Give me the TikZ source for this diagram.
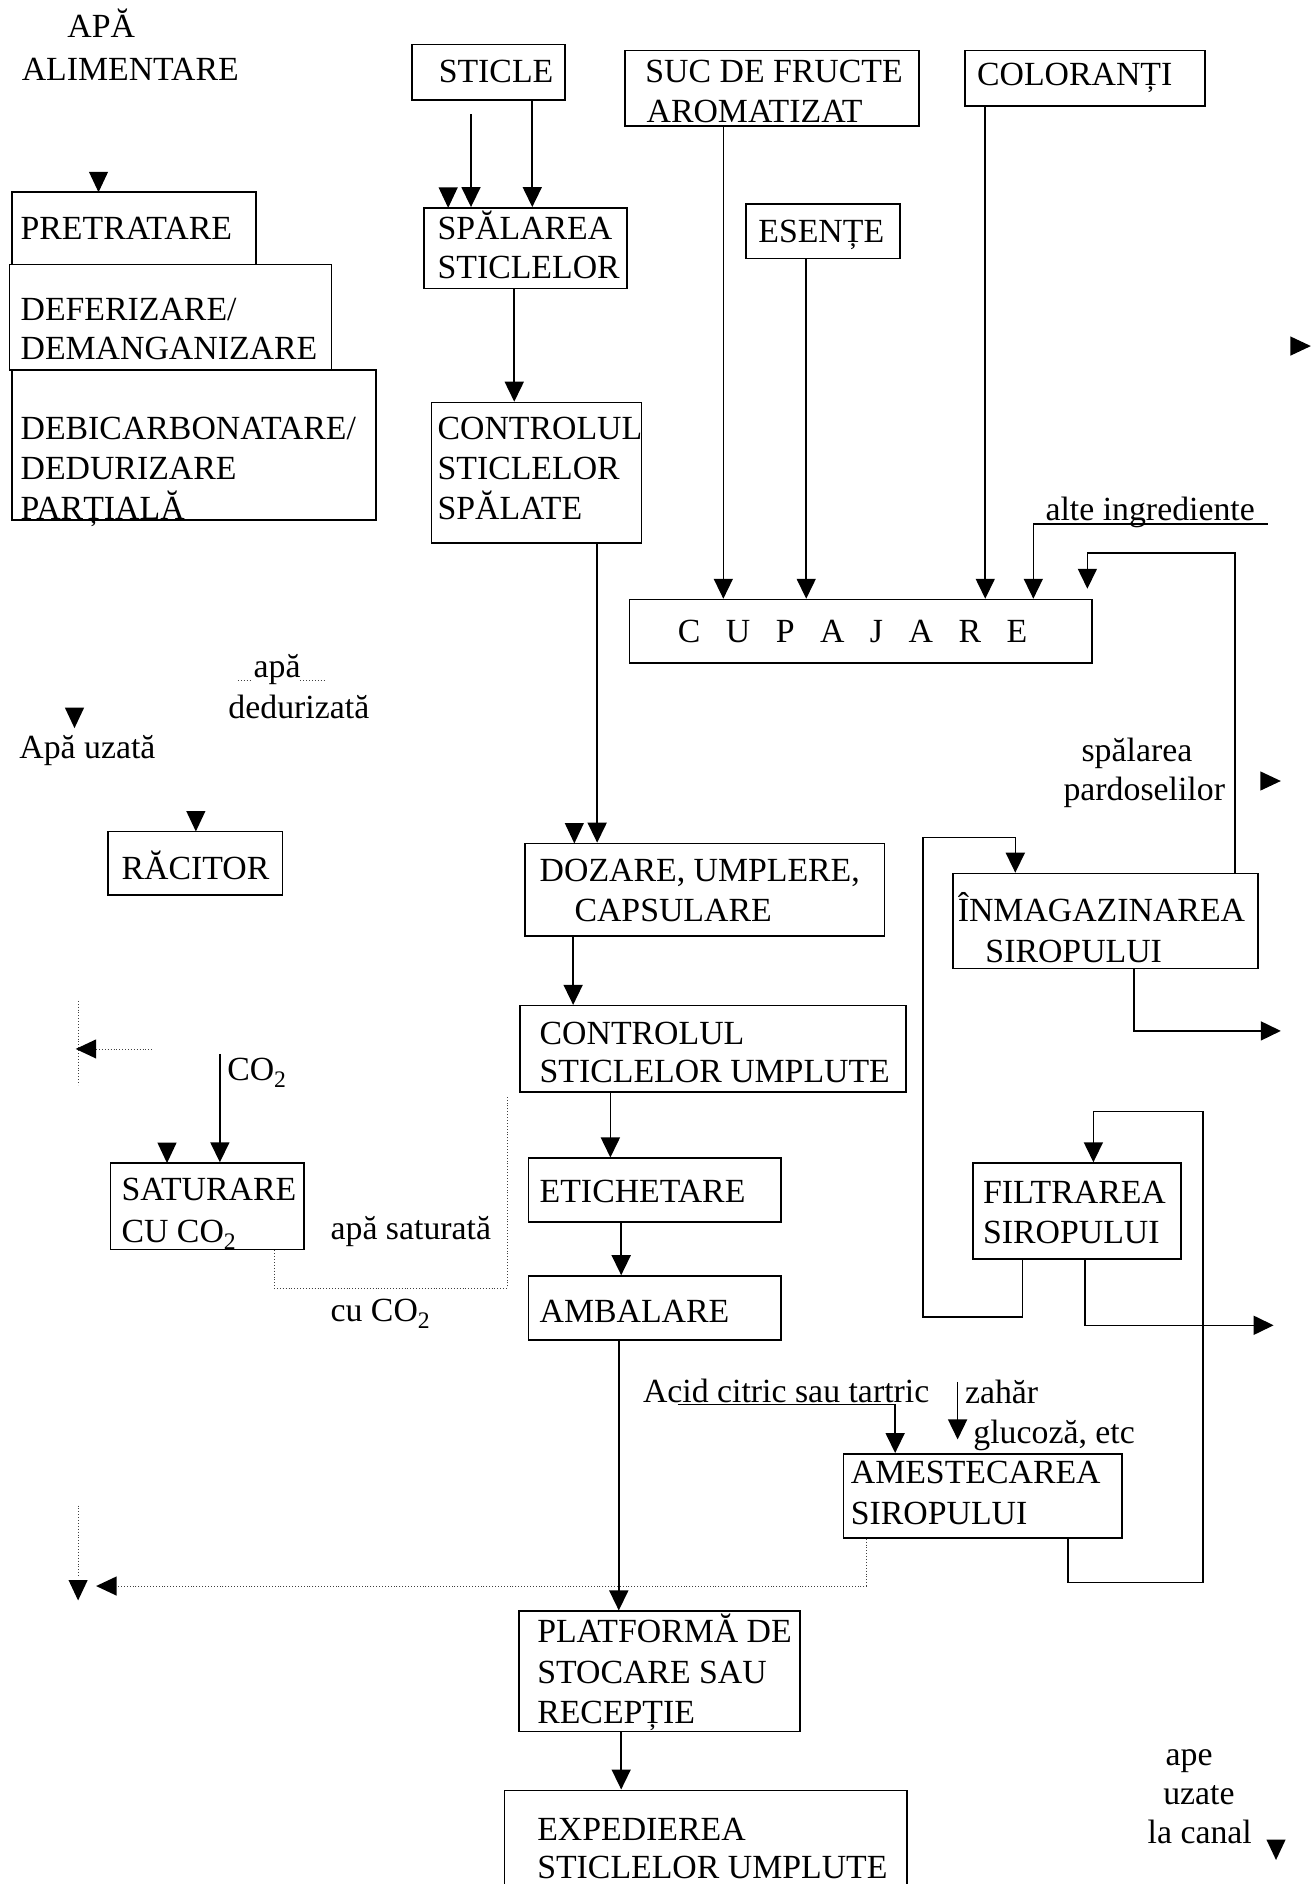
\documentclass[tikz,border=0pt]{standalone}
\usepackage{fontspec}
\setmainfont{Liberation Serif}
\usetikzlibrary{fit,arrows.meta}
\newcommand\tipd[2]{\fill (#1-8,#2-17) -- (#1+8,#2-17) -- (#1,#2) -- cycle;}
\newcommand\tipl[2]{\fill (#1+17,#2-8) -- (#1+17,#2+8) -- (#1,#2) -- cycle;}
\newcommand\tipr[2]{\fill (#1-17,#2-8) -- (#1-17,#2+8) -- (#1,#2) -- cycle;}
\begin{document}
\begin{tikzpicture}[x=1.2015pt,y=-1.2015pt,
  box/.style={draw, line width=1.6pt, inner sep=0pt},
  lbl/.style={anchor=base west, inner sep=0pt, font=\fontsize{33.8}{39.5}\selectfont},
  conn/.style={line width=1.6pt},
  arr/.style={line width=1.6pt, -{Triangle[length=20pt,width=19pt]}},
  dots/.style={dotted, line width=0.9pt, black!75}]
\clip (0,0) rectangle (1092,1568);
\fill[white] (0,0) rectangle (1092,1568);

% ---------- boxes ----------
\node[box, fit={(10,160) (213,220)}] (pre) {};
\node[box, fit={(8,220) (276,308)}] (defer) {};
\node[box, fit={(10,308) (313,433)}] (debic) {};
\node[box, fit={(343,37) (470,83)}] (sticle) {};
\node[box, fit={(520,42) (765,105)}] (suc) {};
\node[box, fit={(803,42) (1003,88)}] (col) {};
\node[box, fit={(353,173) (522,240)}] (spal) {};
\node[box, fit={(621,170) (749,215)}] (esen) {};
\node[box, fit={(359,335) (534,452)}] (ctrl) {};
\node[box, fit={(524,499) (909,552)}] (cup) {};
\node[box, fit={(90,692) (235,745)}] (rac) {};
\node[box, fit={(437,702) (736,779)}] (doz) {};
\node[box, fit={(793,727) (1047,806)}] (inm) {};
\node[box, fit={(433,837) (754,909)}] (csu) {};
\node[box, fit={(92,968) (253,1040)}] (sat) {};
\node[box, fit={(440,964) (650,1017)}] (etich) {};
\node[box, fit={(440,1062) (650,1115)}] (amb) {};
\node[box, fit={(810,968) (983,1048)}] (filtr) {};
\node[box, fit={(702,1210) (934,1280)}] (ame) {};
\node[box, fit={(432,1341) (666,1441)}] (plat) {};
\node[box, fit={(420,1490) (755,1590)}] (exp) {};

% ---------- texts in boxes ----------
\node[lbl] (t-apa1) at (56,31) {APĂ};
\node[lbl] (t-apa2) at (18,67) {ALIMENTARE};
\node[lbl] (t-pre) at (17,199) {PRETRATARE};
\node[lbl] (t-def1) at (17,267) {DEFERIZARE/};
\node[lbl] (t-def2) at (17,299) {DEMANGANIZARE};
\node[lbl] (t-deb1) at (17,366) {DEBICARBONATARE/};
\node[lbl] (t-deb2) at (17,399) {DEDURIZARE};
\node[lbl] (t-deb3) at (17,432) {PARȚIALĂ};
\node[lbl] (t-sticle) at (365,69) {STICLE};
\node[lbl] (t-suc1) at (537,69) {SUC DE FRUCTE};
\node[lbl] (t-suc2) at (538,102) {AROMATIZAT};
\node[lbl] (t-col) at (813,71) {COLORANȚI};
\node[lbl] (t-spal1) at (364,199) {SPĂLAREA};
\node[lbl] (t-spal2) at (364,232) {STICLELOR};
\node[lbl] (t-esen) at (631,202) {ESENȚE};
\node[lbl] (t-ctrl1) at (364,366) {CONTROLUL};
\node[lbl] (t-ctrl2) at (364,399) {STICLELOR};
\node[lbl] (t-ctrl3) at (364,432) {SPĂLATE};
\node[lbl] (t-cup) at (564,535) {C\hspace{25.5pt}U\hspace{25.5pt}P\hspace{25.5pt}A\hspace{25.5pt}J\hspace{25.5pt}A\hspace{25.5pt}R\hspace{25.5pt}E};
\node[lbl] (t-rac) at (101,732) {RĂCITOR};
\node[lbl] (t-doz1) at (449,734) {DOZARE, UMPLERE,};
\node[lbl] (t-doz2) at (478,767) {CAPSULARE};
\node[lbl] (t-inm1) at (797,767) {ÎNMAGAZINAREA};
\node[lbl] (t-inm2) at (820,801) {SIROPULUI};
\node[lbl] (t-csu1) at (449,869) {CONTROLUL};
\node[lbl] (t-csu2) at (449,901) {STICLELOR UMPLUTE};
\node[lbl] (t-sat1) at (101,999) {SATURARE};
\node[lbl] (t-sat2) at (101,1034) {CU CO\textsubscript{2}};
\node[lbl] (t-etich) at (449,1001) {ETICHETARE};
\node[lbl] (t-amb) at (449,1101) {AMBALARE};
\node[lbl] (t-filt1) at (818,1002) {FILTRAREA};
\node[lbl] (t-filt2) at (818,1035) {SIROPULUI};
\node[lbl] (t-ame1) at (708,1235) {AMESTECAREA};
\node[lbl] (t-ame2) at (708,1269) {SIROPULUI};
\node[lbl] (t-plat1) at (447,1367) {PLATFORMĂ DE};
\node[lbl] (t-plat2) at (447,1401) {STOCARE SAU};
\node[lbl] (t-plat3) at (447,1434) {RECEPȚIE};
\node[lbl] (t-exp1) at (447,1532) {EXPEDIEREA};
\node[lbl] (t-exp2) at (447,1563) {STICLELOR UMPLUTE};

% ---------- free labels ----------
\node[lbl] (l-alte) at (870,433) {alte ingrediente};
\node[lbl] (l-apa) at (211,564) {apă};
\node[lbl] (l-dedur) at (190,598) {dedurizată};
\node[lbl] (l-uzata) at (16,631) {Apă uzată};
\node[lbl] (l-spal) at (900,634) {spălarea};
\node[lbl] (l-pard) at (885,666) {pardoselilor};
\node[lbl] (l-co2) at (189,899) {CO\textsubscript{2}};
\node[lbl] (l-sat1) at (275,1032) {apă saturată};
\node[lbl] (l-sat2) at (275,1100) {cu CO\textsubscript{2}};
\node[lbl] (l-acid) at (535,1167) {Acid citric sau tartric};
\node[lbl] (l-zahar) at (803,1168) {zahăr};
\node[lbl] (l-gluc) at (810,1201) {glucoză, etc};
\node[lbl] (l-ape1) at (970,1469) {ape};
\node[lbl] (l-ape2) at (968,1502) {uzate};
\node[lbl] (l-ape3) at (955,1534) {la canal};

% ---------- free coordinates ----------
\coordinate (c-sp) at (392,95);
\coordinate (c-alte) at (1055,436);
\coordinate (c-acid) at (564,1169);
\coordinate (c-zah) at (797,1150);

% ---------- connectors ----------
\draw[arr] (c-sp) -- (spal.north -| 392,0);
\draw[arr] (sticle.south -| 443,0) -- (spal.north -| 443,0);
\draw[arr] (spal.south -| 428,0) -- (ctrl.north -| 428,0);
\draw[arr] (ctrl.south -| 497,0) -- (doz.north -| 497,0);
\draw[arr] (suc.south -| 602,0) -- (cup.north -| 602,0);
\draw[arr] (esen.south -| 671,0) -- (cup.north -| 671,0);
\draw[arr] (col.south -| 820,0) -- (cup.north -| 820,0);
\draw[conn] (c-alte) -- (860,436);
\draw[arr] (860,436) -- (cup.north -| 860,0);
\draw[arr] (inm.north -| 1028,0) -- (1028,460) -- (905,460) -- (905,490);
\draw[arr] (filtr.south -| 851,0) -- (851,1096) -- (768,1096) -- (768,697) -- (845,697) -- (inm.north -| 845,0);
\draw[arr] (inm.south -| 944,0) -- (944,858) -- (1066,858);
\draw[arr] (doz.south -| 477,0) -- (csu.north -| 477,0);
\draw[arr] (csu.south -| 508,0) -- (etich.north -| 508,0);
\draw[arr] (etich.south -| 517,0) -- (amb.north -| 517,0);
\draw[arr] (amb.south -| 515,0) -- (plat.north -| 515,0);
\draw[arr] (plat.south -| 517,0) -- (exp.north -| 517,0);
\draw[arr] (ame.south -| 889,0) -- (889,1317) -- (1001,1317) -- (1001,925) -- (910,925) -- (filtr.north -| 910,0);
\draw[arr] (filtr.south -| 903,0) -- (903,1103) -- (1060,1103);
\draw[arr] (c-acid) -- (745,1169) -- (ame.north -| 745,0);
\draw[arr] (c-zah) -- (797,1198);
\draw[arr] (183,877) -- (sat.north -| 183,0);

% ---------- dotted lines ----------
\draw[dots] (sat.south -| 228,0) -- (228,1072) -- (422,1072) -- (422,912);
\draw[dots] (ame.south -| 721,0) -- (721,1320) -- (96,1320);
\draw[dots] (65,1253) -- (65,1312);
\draw[dots] (65,833) -- (65,903);
\draw[dots] (80,873) -- (127,873);
\draw[dots] (198,566) -- (209,566);
\draw[dots] (250,566) -- (270,566);

% ---------- standalone arrowheads ----------
\tipd{82}{160}
\tipd{373}{173}
\tipd{478}{702}
\tipd{62}{606}
\tipd{163}{692}
\tipd{139}{968}
\tipd{65}{1332}
\tipd{1062}{1548}
\tipl{80}{1320}
\tipl{63}{873}
\tipr{1091}{288}
\tipr{1066}{650}
\end{tikzpicture}
\end{document}
